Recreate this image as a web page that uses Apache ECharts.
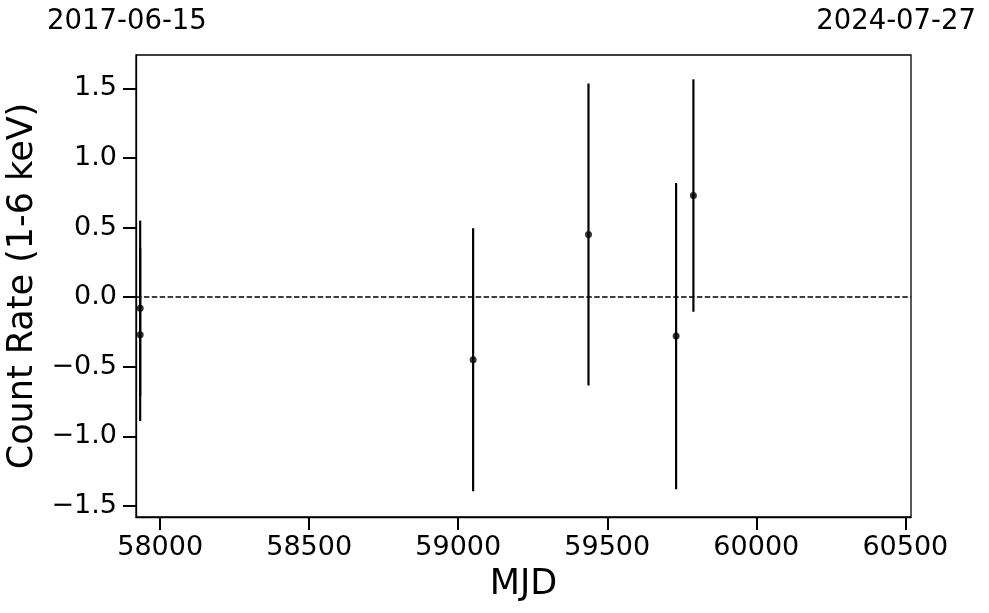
<!DOCTYPE html>
<html>
<head>
<meta charset="utf-8">
<script src="https://cdn.jsdelivr.net/npm/echarts@6/dist/echarts.min.js"></script>
<style>
html,body{margin:0;padding:0;background:#fff;}
#chart{width:989px;height:613px;}
</style>
</head>
<body>
<div id="chart"></div>
<script>
// Data
const mjd = [57933, 57933, 59050, 59437, 59731, 59789];
const rate = [-0.08, -0.27, -0.45, 0.45, -0.28, 0.73];
const rateErr = [0.63, 0.62, 0.945, 1.085, 1.10, 0.835];
const xTicks = [58000, 58500, 59000, 59500, 60000, 60500];
const yTicks = [-1.5, -1.0, -0.5, 0.0, 0.5, 1.0, 1.5];
const xRange = [57919, 60519];
const yRange = [-1.58, 1.74];
const startDate = '2017-06-15';
const endDate = '2024-07-27';

const FONT = 'DejaVu Sans';
const points = mjd.map((x, i) => [x, rate[i]]);
const bars = mjd.map((x, i) => [x, rate[i] - rateErr[i], rate[i] + rateErr[i]]);

const chart = echarts.init(document.getElementById('chart'), null, {renderer: 'canvas'});
chart.setOption({
  animation: false,
  backgroundColor: '#fff',
  grid: {
    left: 136, right: 78, top: 55, bottom: 96,
    containLabel: false, outerBoundsMode: 'none',
    show: true, borderColor: '#000', borderWidth: 1.3, backgroundColor: 'transparent'
  },
  xAxis: {
    type: 'value', min: xRange[0], max: xRange[1],
    name: 'MJD', nameLocation: 'middle', nameGap: 50,
    nameTextStyle: {fontFamily: FONT, fontSize: 35, color: '#000'},
    axisLine: {show: true, onZero: false, lineStyle: {color: '#000', width: 1.3}},
    axisTick: {show: true, length: 13, inside: false, customValues: xTicks, lineStyle: {color: '#000', width: 2}},
    axisLabel: {show: true, customValues: xTicks, margin: 17, fontFamily: FONT, fontSize: 27, color: '#000',
      formatter: v => String(v)},
    splitLine: {show: false}
  },
  yAxis: {
    type: 'value', min: yRange[0], max: yRange[1],
    name: 'Count Rate (1-6 keV)', nameLocation: 'middle', nameGap: 89,
    nameTextStyle: {fontFamily: FONT, fontSize: 35, color: '#000'},
    axisLine: {show: true, onZero: false, lineStyle: {color: '#000', width: 1.3}},
    axisTick: {show: true, length: 13, inside: false, customValues: yTicks, lineStyle: {color: '#000', width: 2}},
    axisLabel: {show: true, customValues: yTicks, margin: 19, fontFamily: FONT, fontSize: 27, color: '#000',
      formatter: v => (v < 0 ? '\u2212' : '') + Math.abs(v).toFixed(1)},
    splitLine: {show: false}
  },
  graphic: [
    {type: 'text', left: 47, top: 8, style: {text: startDate, font: '27.5px "DejaVu Sans"', fill: '#000'}},
    {type: 'text', right: 13, top: 8, style: {text: endDate, font: '27.5px "DejaVu Sans"', fill: '#000'}}
  ],
  series: [
    {
      type: 'custom',
      data: bars,
      encode: {x: 0, y: [1, 2]},
      z: 3,
      renderItem: function (params, api) {
        const x = api.value(0);
        const p1 = api.coord([x, api.value(1)]);
        const p2 = api.coord([x, api.value(2)]);
        return {
          type: 'line',
          shape: {x1: p1[0], y1: p1[1], x2: p2[0], y2: p2[1]},
          style: {stroke: '#000', lineWidth: 2.2}
        };
      }
    },
    {
      type: 'scatter',
      data: points,
      symbol: 'circle',
      symbolSize: 7,
      z: 4,
      itemStyle: {color: '#000'},
      markLine: {
        silent: true,
        symbol: ['none', 'none'],
        label: {show: false},
        lineStyle: {color: '#000', type: [5.5, 2.4], width: 1.5},
        data: [{yAxis: 0}]
      }
    }
  ]
});
</script>
</body>
</html>
